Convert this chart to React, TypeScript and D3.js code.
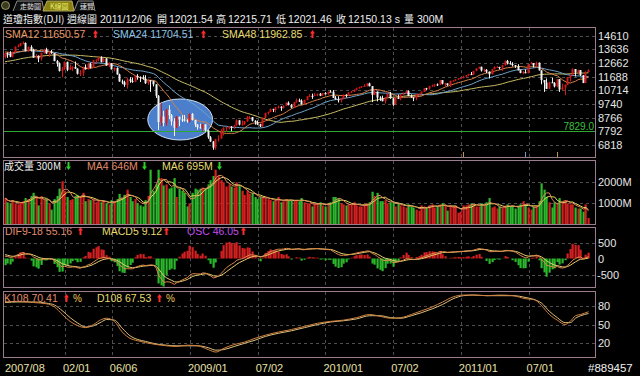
import React from "react";
import * as d3 from "d3";

// ---------------- DATA ----------------
// 48 weekly closes before the first shown bar (warm-up for moving averages)
const histCloses = [
  11508, 11679, 11850, 11960, 12002, 12090, 12031, 12108, 12342, 12280, 12194, 12307, 12445, 12343, 12463,
  12398, 12556, 12565, 12487, 12653, 12580, 12767, 12647, 12114, 12276, 12110, 12481, 12354, 12560, 12612,
  12962, 13120, 13264, 13326, 13556, 13507, 13668, 13424, 13640, 13360, 13408, 13611, 13907, 13851, 13266,
  13182, 13239, 13079,
];

const opens = [
  13079, 13378, 13358, 13113, 13442, 13820, 13896, 14066, 14093, 13522,
  13806, 13595, 13042, 13176, 12980, 13372, 13625, 13339, 13450, 13366,
  12800, 12606, 12099, 12207, 12743, 12182, 12348, 12381, 12266, 11894,
  11951, 12361, 12216, 12610, 12325, 12849, 12891, 13058, 12745, 12986,
  12480, 12638, 12209, 12307, 11843, 11346, 11288, 11100, 11496, 11370,
  11326, 11734, 11659, 11628, 11543, 11220, 11421, 11388, 11143, 10325,
  8451, 8852, 8378, 9325, 8943, 8497, 8046, 8829, 8635, 8629,
  8579, 8515, 9034, 8599, 8281, 8077, 8001, 8280, 7850, 7366,
  7063, 6627, 7224, 7279, 7776, 8018, 8083, 8131, 8076, 8212,
  8575, 8268, 8277, 8500, 8764, 8799, 8540, 8438, 8280, 8146,
  8744, 9093, 9172, 9370, 9321, 9506, 9544, 9441, 9606, 9820,
  9666, 9488, 9865, 9996, 9972, 9713, 10023, 10270, 10319, 10310,
  10389, 10471, 10329, 10520, 10428, 10618, 10610, 10172, 10067, 10012,
  10099, 10402, 10325, 10566, 10625, 10742, 10850, 10927, 10997, 11019,
  11204, 11009, 10380, 10620, 10193, 10137, 9932, 10212, 10450, 10144,
  9686, 10198, 10098, 10425, 10466, 10654, 10303, 10214, 10150, 10448,
  10462, 10608, 10860, 10830, 11006, 11063, 11133, 11118, 11444, 11192,
  11204, 11092, 11382, 11410, 11492, 11573, 11578, 11675, 11787, 11872,
  11824, 12092, 12273, 12391, 12130, 12170, 12044, 11859, 12221, 12377,
  12380, 12342, 12505, 12811, 12638, 12596, 12512, 12442, 12151, 11952,
  12004, 11934, 12583, 12657, 12480, 12681, 12143, 11445, 11269, 10818,
  11285, 11240, 10992, 11509, 10771, 10913, 11103, 11644, 11809, 12231,
  11983, 12153, 11796, 11231, 12021.54,
];

const highs = [
  13400, 13420, 13500, 13490, 13850, 13990, 14100, 14200, 14130, 13850,
  13930, 13680, 13300, 13200, 13400, 13680, 13750, 13480, 13600, 13370,
  12870, 12700, 12380, 12770, 12760, 12550, 12430, 12770, 12280, 12160,
  12410, 12560, 12680, 12670, 12870, 12930, 13130, 13140, 13030, 13000,
  12720, 12640, 12360, 12350, 11900, 11480, 11400, 11620, 11650, 11610,
  11800, 11870, 11710, 11790, 11790, 11530, 11450, 11390, 11140, 10370,
  9800, 9250, 9400, 9650, 9020, 8720, 8870, 8830, 8950, 8950,
  8640, 9070, 9090, 8600, 8290, 8330, 8320, 8300, 7870, 7450,
  7090, 7250, 7500, 7930, 8080, 8090, 8160, 8150, 8250, 8650,
  8580, 8560, 8520, 8880, 8880, 8800, 8580, 8560, 8320, 8760,
  9120, 9190, 9410, 9400, 9520, 9630, 9580, 9650, 9880, 9920,
  9730, 9880, 10120, 10120, 10070, 10050, 10300, 10440, 10480, 10520,
  10480, 10520, 10520, 10580, 10620, 10730, 10730, 10300, 10290, 10150,
  10420, 10430, 10570, 10660, 10780, 10900, 10960, 11000, 11150, 11210,
  11260, 11020, 10800, 10630, 10290, 10330, 10220, 10500, 10600, 10160,
  10200, 10410, 10430, 10560, 10720, 10700, 10420, 10220, 10460, 10480,
  10630, 10870, 10890, 11030, 11120, 11180, 11200, 11460, 11450, 11250,
  11210, 11400, 11430, 11500, 11580, 11640, 11750, 11800, 11890, 12020,
  12100, 12290, 12400, 12400, 12260, 12230, 12060, 12230, 12420, 12440,
  12390, 12530, 12830, 12880, 12800, 12720, 12520, 12580, 12190, 12100,
  12200, 12580, 12750, 12660, 12750, 12700, 12140, 11450, 11560, 11320,
  11610, 11300, 11520, 11520, 11190, 11130, 11650, 11810, 12290, 12230,
  12180, 12160, 11800, 12070, 12215.71,
];

const lows = [
  12990, 13030, 13080, 13070, 13400, 13780, 13860, 13990, 13500, 13460,
  13480, 13040, 12980, 12720, 12840, 13330, 13300, 13100, 13320, 12790,
  12400, 12050, 11630, 12180, 12080, 12160, 12080, 12240, 11840, 11730,
  11730, 12190, 12200, 12280, 12300, 12680, 12790, 12700, 12710, 12470,
  12360, 12200, 12060, 11830, 11320, 11150, 10960, 10830, 11250, 11250,
  11300, 11470, 11300, 11470, 11170, 11100, 10600, 10990, 10170, 7880,
  8170, 8140, 8170, 8650, 8200, 7450, 8000, 8150, 8450, 8480,
  8400, 8420, 8560, 8100, 7910, 7980, 7780, 7750, 7250, 7030,
  6470, 6470, 7050, 7250, 7490, 7770, 7920, 7800, 7960, 8190,
  8210, 8220, 8240, 8460, 8660, 8490, 8260, 8230, 8090, 8110,
  8700, 8990, 9150, 9160, 9130, 9420, 9250, 9420, 9600, 9640,
  9430, 9480, 9830, 9880, 9690, 9710, 10000, 10230, 10100, 10300,
  10290, 10300, 10320, 10420, 10420, 10580, 10170, 10050, 9840, 9840,
  10060, 10200, 10320, 10520, 10590, 10710, 10840, 10880, 10990, 10980,
  10990, 9870, 10360, 9920, 9960, 9930, 9760, 10190, 10110, 9610,
  9680, 10090, 10000, 10360, 10450, 10300, 10180, 9940, 10010, 10360,
  10420, 10590, 10740, 10760, 10960, 10960, 11020, 11090, 11140, 10990,
  11030, 10950, 11320, 11380, 11470, 11550, 11570, 11620, 11740, 11800,
  11820, 12070, 12250, 12050, 12020, 11940, 11560, 11850, 12210, 12350,
  12200, 12090, 12470, 12560, 12560, 12420, 12310, 12130, 11930, 11860,
  11930, 11930, 12560, 12340, 12380, 12120, 11140, 10600, 10810, 10820,
  11230, 10920, 10930, 10600, 10750, 10360, 11090, 11340, 11800, 11700,
  11840, 11730, 11230, 11230, 12021.46,
];

const closes = [
  13378, 13358, 13113, 13442, 13820, 13896, 14066, 14093, 13522, 13806,
  13595, 13042, 13176, 12980, 13372, 13625, 13339, 13450, 13366, 12800,
  12606, 12099, 12207, 12743, 12182, 12348, 12381, 12266, 11894, 11951,
  12361, 12216, 12610, 12325, 12849, 12891, 13058, 12745, 12986, 12480,
  12638, 12209, 12307, 11843, 11346, 11288, 11100, 11496, 11370, 11326,
  11734, 11659, 11628, 11543, 11220, 11421, 11388, 11143, 10325, 8451,
  8852, 8378, 9325, 8943, 8497, 8046, 8829, 8635, 8629, 8579,
  8515, 9034, 8599, 8281, 8077, 8001, 8280, 7850, 7366, 7063,
  6627, 7224, 7279, 7776, 8018, 8083, 8131, 8076, 8212, 8575,
  8268, 8277, 8500, 8764, 8799, 8540, 8438, 8280, 8146, 8744,
  9093, 9172, 9370, 9321, 9506, 9544, 9441, 9606, 9820, 9666,
  9488, 9865, 9996, 9972, 9713, 10023, 10270, 10319, 10310, 10389,
  10471, 10329, 10520, 10428, 10618, 10610, 10172, 10067, 10012, 10099,
  10402, 10325, 10566, 10625, 10742, 10850, 10927, 10997, 11019, 11204,
  11009, 10380, 10620, 10193, 10137, 9932, 10212, 10450, 10144, 9686,
  10198, 10098, 10425, 10466, 10654, 10303, 10214, 10150, 10448, 10462,
  10608, 10860, 10830, 11006, 11063, 11133, 11118, 11444, 11192, 11204,
  11092, 11382, 11410, 11492, 11573, 11578, 11675, 11787, 11872, 11824,
  12092, 12273, 12391, 12130, 12170, 12044, 11859, 12221, 12377, 12380,
  12342, 12505, 12811, 12638, 12596, 12512, 12442, 12151, 11952, 12004,
  11934, 12583, 12657, 12480, 12681, 12143, 11445, 11269, 10818, 11285,
  11240, 10992, 11509, 10771, 10913, 11103, 11644, 11809, 12231, 11983,
  12153, 11796, 11231, 12019, 12150.13,
];

// weekly volume, millions
const volumes = [
  1250, 1050, 1000, 1150, 1000, 950, 1050, 1100, 1250, 1200,
  1350, 1500, 1300, 900, 1350, 1150, 1200, 1000, 700, 1200,
  1350, 1700, 2050, 1600, 1300, 1150, 1200, 1350, 1400, 1350,
  1500, 1100, 1200, 1150, 1200, 1050, 1150, 1050, 1100, 1000,
  950, 1150, 1100, 1200, 1450, 1250, 1400, 1650, 1300, 1100,
  1200, 1000, 900, 850, 1150, 1350, 2600, 1600, 1900, 2600,
  2200, 1850, 1900, 1700, 1750, 2200, 1300, 1700, 1600, 1500,
  850, 1000, 1500, 1700, 1650, 1700, 1750, 1700, 1900, 2100,
  2300, 2600, 2300, 2100, 2000, 1800, 1900, 1800, 1750, 2000,
  1900, 1600, 1400, 1600, 1450, 1500, 1300, 1200, 1300, 1300,
  1250, 1200, 1150, 1100, 1150, 1300, 1050, 1100, 1200, 1150,
  1150, 1100, 1150, 1100, 1250, 1050, 1000, 1000, 850, 1000,
  1000, 1050, 900, 850, 1000, 1050, 1300, 1300, 1250, 1000,
  950, 900, 950, 950, 1050, 900, 850, 850, 950, 1000,
  1050, 1550, 1350, 1500, 1100, 1100, 1150, 1000, 1050, 1050,
  850, 1000, 900, 850, 800, 950, 850, 800, 700, 650,
  900, 850, 800, 900, 950, 800, 850, 950, 1000, 900,
  650, 900, 850, 900, 550, 600, 900, 900, 950, 1000,
  950, 850, 850, 1000, 900, 1050, 1250, 800, 850, 750,
  850, 800, 900, 950, 850, 850, 750, 850, 950, 1100,
  900, 800, 700, 850, 900, 1100, 1950, 1650, 1300, 1050,
  800, 1050, 1000, 1250, 1050, 1150, 1000, 950, 950, 800,
  750, 750, 600, 950, 300,
];

const kdIdx = [0, 5, 11, 16, 19, 22, 25, 28, 31, 34, 37, 39, 42, 45, 48, 51, 54, 58, 62, 66, 70, 74, 78, 81, 84, 88, 92, 96, 100, 105, 110, 115, 120, 125, 130, 135, 140, 144, 148, 152, 156, 160, 164, 168, 172, 176, 180, 185, 190, 195, 200, 203, 206, 209, 212, 215, 217, 219, 221, 224];
const kVals = [86, 87, 85, 83, 78, 66, 55, 48, 45, 50, 58, 60, 55, 38, 28, 24, 21, 18, 16, 15, 17, 16, 10, 6, 12, 18, 22, 28, 33, 38, 42, 47, 52, 55, 57, 61, 66, 63, 60, 61, 66, 72, 78, 86, 94, 97, 97, 96, 97, 96, 91, 90, 80, 66, 57, 50, 55, 64, 66, 70.41];
const dVals = [85, 86, 86, 84, 81, 72, 61, 52, 46, 48, 54, 58, 57, 44, 32, 26, 23, 19, 17, 16, 16, 16, 13, 9, 10, 15, 20, 25, 31, 36, 40, 45, 50, 54, 56, 59, 64, 64, 61, 60, 64, 69, 75, 82, 91, 96, 97, 96, 96, 96, 93, 90, 84, 71, 61, 53, 53, 60, 64, 67.53];

const priceTicks = [14610, 13636, 12662, 11688, 10714, 9740, 8766, 7792, 6818];
const volTicks = [1000, 2000];
const macdTicks = [500, 0, -500];
const kdTicks = [80, 50, 20];
const dateTickIdx = [0, 23, 41, 71, 97, 123, 149, 175, 201];
const dateTickLabels = ["2007/08", "02/01", "06/06", "2009/01", "07/02", "2010/01", "07/02", "2011/01", "07/01"];
const supportLevel = 7829.0;
const eventIdx = [176, 200, 212];
const eventColors = ["#c89050", "#6aa0d0", "#c89050"];
const highlightRange = { i0: 54.8, i1: 79.7, v0: 7167, v1: 10093 };

const headerItems = [
  { x: 3, t: "道瓊指數(DJI)" },
  { x: 67, t: "週線圖" },
  { x: 100, t: "2011/12/06" },
  { x: 157, t: "開" },
  { x: 169, t: "12021.54" },
  { x: 216, t: "高" },
  { x: 228, t: "12215.71" },
  { x: 276, t: "低" },
  { x: 288, t: "12021.46" },
  { x: 336, t: "收" },
  { x: 348, t: "12150.13 s" },
  { x: 404, t: "量" },
  { x: 417, t: "300M" },
];

// ---------------- LAYOUT ----------------
const PL = 3, PR = 595;
const P = {
  main: { top: 27, bottom: 157 },
  vol: { top: 160, bottom: 224 },
  macd: { top: 227, bottom: 287 },
  kd: { top: 291, bottom: 357 },
};
const NUM = "Liberation Sans, Arial, sans-serif";
const CJK = "Noto Sans CJK TC, sans-serif";
const GRID = "#4e4e4e";
const BORDER = "#9a7c8c";
const UP = "#d41818";
const DOWN_C = "#f2f2f2";
const VUP = "#d42020";
const VDN = "#2cb82c";
const hasCJK = (s: string) => /[\u4e00-\u9fff]/.test(s);

function ema(arr: number[], p: number) {
  const a = 2 / (p + 1);
  let e = arr[0];
  return arr.map((v) => (e = e + a * (v - e)));
}

export default function App() {
  const n = closes.length;
  const x = d3.scaleLinear().domain([0, n - 1]).range([5, 588.5]);
  const yP = d3.scaleLinear().domain([6818, 14610]).range([144.9, 35.7]);
  const yV = d3.scaleLinear().domain([0, 2000]).range([224.3, 182.3]);
  const yM = d3.scaleLinear().domain([-500, 500]).range([274.5, 242.5]);
  const yK = d3.scaleLinear().domain([20, 80]).range([343.3, 305.7]);

  const all = histCloses.concat(closes);
  const off = histCloses.length;
  const sma = (p: number) =>
    closes.map((_, i) => d3.mean(all.slice(Math.max(0, off + i - p + 1), off + i + 1)) as number);
  const sma12 = sma(12), sma24 = sma(24), sma48 = sma(48);

  const volMa = (p: number) =>
    volumes.map((_, i) => d3.mean(volumes.slice(Math.max(0, i - p + 1), i + 1)) as number);
  const vma4 = volMa(4), vma6 = volMa(6);

  const e9 = ema(all, 9), e18 = ema(all, 18);
  const difAll = all.map((_, i) => e9[i] - e18[i]);
  const macdAll = ema(difAll, 5);
  const dif = difAll.slice(off), macd = macdAll.slice(off);
  const osc = dif.map((d, i) => d - macd[i]);
  const maxOsc = d3.max(osc, (v) => Math.abs(v)) as number;
  const zeroY = yM(0);
  const yO = d3.scaleLinear().domain([-maxOsc, maxOsc]).range([zeroY + 28, zeroY - 28]);

  const lineP = (arr: number[]) => d3.line<number>().x((_, i) => x(i)).y((d) => yP(d))(arr) || "";
  const lineV = (arr: number[]) => d3.line<number>().x((_, i) => x(i)).y((d) => yV(d))(arr) || "";
  const lineM = (arr: number[]) => d3.line<number>().x((_, i) => x(i)).y((d) => yM(d))(arr) || "";
  const lineK = (arr: number[]) =>
    d3.line<number>().x((_, j) => x(kdIdx[j])).y((d) => yK(d)).curve(d3.curveMonotoneX)(arr) || "";

  const panelRect = (p: { top: number; bottom: number }, key: string) => (
    <rect key={key} x={PL + 0.5} y={p.top + 0.5} width={PR - PL} height={p.bottom - p.top} fill="none" stroke={BORDER} strokeWidth={1} />
  );

  const vGrid = (p: { top: number; bottom: number }, key: string) =>
    dateTickIdx.slice(1).map((di, j) => (
      <line key={key + j} x1={Math.round(x(di)) + 0.5} x2={Math.round(x(di)) + 0.5} y1={p.top + 1} y2={p.bottom} stroke={GRID} strokeDasharray="3,3" />
    ));

  const hGrid = (ys: number[], key: string) =>
    ys.map((yy, j) => (
      <line key={key + j} x1={PL + 1} x2={PR} y1={Math.round(yy) + 0.5} y2={Math.round(yy) + 0.5} stroke={GRID} strokeDasharray="3,3" />
    ));

  const cx = (i: number) => Math.floor(x(i));

  const ell = {
    cx: (x(highlightRange.i0) + x(highlightRange.i1)) / 2,
    rx: (x(highlightRange.i1) - x(highlightRange.i0)) / 2,
    cy: (yP(highlightRange.v0) + yP(highlightRange.v1)) / 2,
    ry: Math.abs(yP(highlightRange.v0) - yP(highlightRange.v1)) / 2,
  };

  const arrowUp = (xx: number, yy: number, key: string) => (
    <path key={key} d={`M${xx + 2.5},${yy - 8} L${xx + 5},${yy - 4.5} L${xx + 3.5},${yy - 4.5} L${xx + 3.5},${yy} L${xx + 1.5},${yy} L${xx + 1.5},${yy - 4.5} L${xx},${yy - 4.5} Z`} fill="#ff2a2a" />
  );
  const arrowDown = (xx: number, yy: number, key: string) => (
    <path key={key} d={`M${xx + 2.5},${yy} L${xx + 5},${yy - 3.5} L${xx + 3.5},${yy - 3.5} L${xx + 3.5},${yy - 8} L${xx + 1.5},${yy - 8} L${xx + 1.5},${yy - 3.5} L${xx},${yy - 3.5} Z`} fill="#28d028" />
  );

  const legend = (items: { x: number; t: string; c: string; a?: string; ax?: number; pct?: number }[], y: number, key: string) =>
    items.map((it, j) => (
      <g key={key + j}>
        <text x={it.x} y={y} fill={it.c} fontSize={hasCJK(it.t) ? 10 : 10.5} fontFamily={hasCJK(it.t) ? CJK : NUM}>
          {it.t}
        </text>
        {it.a === "up" && arrowUp(it.ax as number, y, key + "a" + j)}
        {it.a === "down" && arrowDown(it.ax as number, y, key + "a" + j)}
        {it.pct !== undefined && (
          <text x={it.pct} y={y} fill="#e8c850" fontSize={10} fontFamily={NUM}>%</text>
        )}
      </g>
    ));

  return (
    <div style={{ position: "absolute", left: 0, top: 0, width: 640, height: 376, background: "#000" }}>
      <svg width={640} height={376} style={{ display: "block" }}>
        <defs>
          {Object.entries(P).map(([k, p]) => (
            <clipPath id={"clip-" + k} key={k}>
              <rect x={PL + 1} y={p.top + 1} width={PR - PL - 1} height={p.bottom - p.top - 1} />
            </clipPath>
          ))}
        </defs>
        <rect x={0} y={0} width={640} height={376} fill="#000" />

        {/* tabs */}
        <g>
          <circle cx={5.5} cy={5.5} r={4} fill="#3a3a20" stroke="#9a9a60" />
          <path d="M13,11 L17,1 L42,1 L44,11" fill="#111" stroke="#8a8a8a" />
          <text x={20} y={8.5} fill="#e0e0e0" fontSize={7} fontFamily={CJK}>走勢圖</text>
          <path d="M43,11 L47,1 L72,1 L74,11 Z" fill="#8a8010" stroke="#b0a860" />
          <text x={50} y={8.5} fill="#e8f070" fontSize={7} fontFamily={CJK}>K線圖</text>
          <path d="M74,11 L78,1 L93,1 L95,11" fill="#111" stroke="#8a8a8a" />
          <text x={80} y={8.5} fill="#e0e0e0" fontSize={7} fontFamily={CJK}>速覽</text>
        </g>

        {/* header */}
        {headerItems.map((h, j) => (
          <text key={"h" + j} x={h.x} y={23} fill="#f0f0f0" fontSize={hasCJK(h.t) ? 10 : 10.5} fontFamily={hasCJK(h.t) ? CJK : NUM}>
            {h.t}
          </text>
        ))}

        {/* ---------- MAIN PANEL ---------- */}
        {hGrid(priceTicks.map((t) => yP(t)), "pg")}
        {vGrid(P.main, "pv")}
        <g clipPath="url(#clip-main)">
          <ellipse cx={ell.cx} cy={ell.cy} rx={ell.rx} ry={ell.ry} fill="#4b7fcc" stroke="#cfe0f5" strokeWidth={1} />
          <line x1={PL + 1} x2={PR} y1={Math.round(yP(supportLevel)) + 0.5} y2={Math.round(yP(supportLevel)) + 0.5} stroke="#2ea82e" />
          <path d={lineP(sma48)} fill="none" stroke="#c8bc64" strokeWidth={1} />
          <path d={lineP(sma24)} fill="none" stroke="#6ea4cc" strokeWidth={1} />
          <path d={lineP(sma12)} fill="none" stroke="#d48048" strokeWidth={1} />
          {closes.map((c, i) => {
            const o = opens[i];
            const up = c >= o;
            const col = up ? UP : DOWN_C;
            const top = yP(Math.max(o, c));
            const bot = yP(Math.min(o, c));
            const xx = cx(i);
            return (
              <g key={"c" + i}>
                <line x1={xx + 0.5} x2={xx + 0.5} y1={yP(highs[i])} y2={yP(lows[i])} stroke={col} strokeWidth={1} />
                <rect x={xx - 0.5} y={top} width={2} height={Math.max(1, bot - top)} fill={col} />
              </g>
            );
          })}
          {eventIdx.map((ei, j) => (
            <line key={"ev" + j} x1={cx(ei) + 0.5} x2={cx(ei) + 0.5} y1={152} y2={157} stroke={eventColors[j]} />
          ))}
        </g>
        <text x={594} y={129.5} fill="#3cc03c" fontSize={10} fontFamily={NUM} textAnchor="end">
          {supportLevel.toFixed(1)}
        </text>
        {legend(
          [
            { x: 5, t: "SMA12 11650.57", c: "#e89a66", a: "up", ax: 93 },
            { x: 113, t: "SMA24 11704.51", c: "#8cc4e8", a: "up", ax: 201 },
            { x: 222, t: "SMA48 11962.85", c: "#e6dc6e", a: "up", ax: 310 },
          ],
          38,
          "lm"
        )}
        {priceTicks.map((t, j) => (
          <text key={"pt" + j} x={598} y={yP(t) + 4} fill="#e6e6e6" fontSize={11} fontFamily={NUM}>
            {t}
          </text>
        ))}

        {/* ---------- VOLUME PANEL ---------- */}
        {hGrid(volTicks.map((t) => yV(t)), "vg")}
        {vGrid(P.vol, "vv")}
        <g clipPath="url(#clip-vol)">
          {volumes.map((v, i) => (
            <rect key={"v" + i} x={cx(i) - 0.5} y={yV(v)} width={2.2} height={yV(0) - yV(v)} fill={closes[i] >= opens[i] ? VUP : VDN} />
          ))}
          <path d={lineV(vma6)} fill="none" stroke="#e6d860" strokeWidth={1} />
          <path d={lineV(vma4)} fill="none" stroke="#e08858" strokeWidth={1} />
        </g>
        {legend(
          [
            { x: 4, t: "成交量 300M", c: "#f0f0f0", a: "down", ax: 66 },
            { x: 87, t: "MA4 646M", c: "#e08c6c", a: "down", ax: 142 },
            { x: 162, t: "MA6 695M", c: "#e6dc70", a: "down", ax: 217 },
          ],
          170,
          "lv"
        )}
        {volTicks.map((t, j) => (
          <text key={"vt" + j} x={598} y={yV(t) + 4} fill="#e6e6e6" fontSize={11} fontFamily={NUM}>
            {t + "M"}
          </text>
        ))}

        {/* ---------- MACD PANEL ---------- */}
        {hGrid([yM(500), yM(-500)], "mg")}
        {vGrid(P.macd, "mv")}
        <g clipPath="url(#clip-macd)">
          {osc.map((o, i) => (
            <rect key={"o" + i} x={cx(i) - 0.5} y={Math.min(yO(o), zeroY)} width={2.2} height={Math.abs(yO(o) - zeroY)} fill={o >= 0 ? VUP : VDN} />
          ))}
          <path d={lineM(macd)} fill="none" stroke="#e6d070" strokeWidth={1} />
          <path d={lineM(dif)} fill="none" stroke="#e0884c" strokeWidth={1} />
        </g>
        {legend(
          [
            { x: 5, t: "DIF9-18 55.16", c: "#e08c6c", a: "up", ax: 78 },
            { x: 102, t: "MACD5 9.12", c: "#e6dc70", a: "up", ax: 164 },
            { x: 187, t: "OSC 46.05", c: "#c04cf0", a: "up", ax: 241 },
          ],
          235,
          "lmc"
        )}
        {macdTicks.map((t, j) => (
          <text key={"mt" + j} x={t < 0 ? 597 : 598} y={yM(t) + 4} fill="#e6e6e6" fontSize={11} fontFamily={NUM}>
            {t}
          </text>
        ))}

        {/* ---------- KD PANEL ---------- */}
        {hGrid(kdTicks.map((t) => yK(t)), "kg")}
        {vGrid(P.kd, "kv")}
        <g clipPath="url(#clip-kd)">
          <path d={lineK(dVals)} fill="none" stroke="#dcc080" strokeWidth={1} />
          <path d={lineK(kVals)} fill="none" stroke="#d0803c" strokeWidth={1} />
        </g>
        {legend(
          [
            { x: 4, t: "K108 70.41", c: "#e08c6c", a: "up", ax: 64, pct: 73 },
            { x: 97, t: "D108 67.53", c: "#e6dc70", a: "up", ax: 157, pct: 166 },
          ],
          302,
          "lk"
        )}
        {kdTicks.map((t, j) => (
          <text key={"kt" + j} x={598} y={yK(t) + 4} fill="#e6e6e6" fontSize={11} fontFamily={NUM}>
            {t}
          </text>
        ))}

        {/* panel frames */}
        {panelRect(P.main, "fm")}
        {panelRect(P.vol, "fv")}
        {panelRect(P.macd, "fmc")}
        {panelRect(P.kd, "fk")}

        {/* date axis */}
        {dateTickIdx.map((di, j) => (
          <text key={"d" + j} x={j === 0 ? 5 : x(di) - 2} y={372} fill="#e8e0a8" fontSize={11} fontFamily={NUM}>
            {dateTickLabels[j]}
          </text>
        ))}
        <text x={588} y={372} fill="#f0f0f0" fontSize={11.5} fontFamily={NUM}>
          #889457
        </text>
      </svg>
    </div>
  );
}
